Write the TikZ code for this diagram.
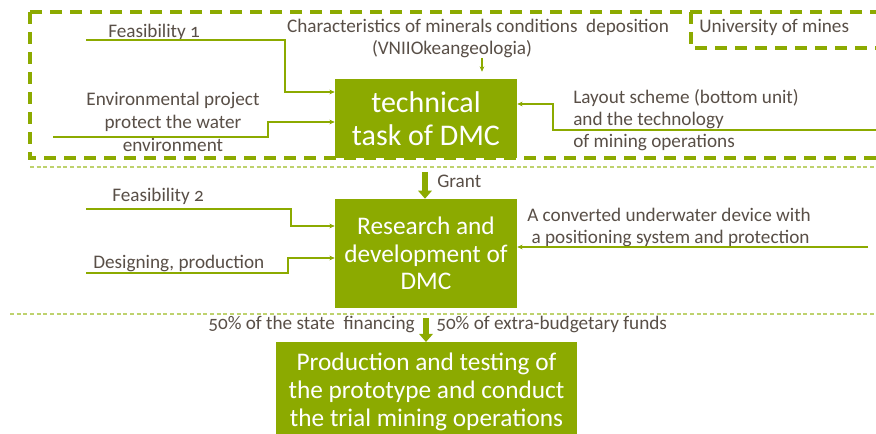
\documentclass[tikz,border=0pt]{standalone}
\usepackage{fontspec}
\setmainfont{Carlito}[Numbers=OldStyle]
\usetikzlibrary{arrows.meta}

\definecolor{dmcgreen}{RGB}{140,170,0}
\definecolor{dmclight}{RGB}{190,210,110}
\definecolor{dmctext}{RGB}{89,79,71}

\tikzset{
  box/.style={fill=dmcgreen, text=white, inner sep=0pt, align=center,
    font=\fontsize{19}{20.5}\selectfont},
  lbl/.style={text=dmctext, inner sep=0pt, font=\fontsize{14.4}{16.5}\selectfont},
  conn/.style={draw=dmcgreen, line width=0.9pt, -{Stealth[length=4pt,width=3.5pt]}},
  bigarrow/.style={draw=dmcgreen, line width=3.8pt, -{Triangle[length=6pt,width=10pt]}},
  frame/.style={draw=dmcgreen, line width=2.5pt, dash pattern=on 9pt off 6pt},
  sep/.style={draw=dmclight, line width=0.8pt, dash pattern=on 3pt off 2pt}
}

\begin{document}
\begin{tikzpicture}[x=0.75pt, y=-0.75pt]
    \clip (0,0) rectangle (876,434);
    \fill[white] (0,0) rectangle (876,434);

    % Dashed frames
    \draw[frame] (30,12) rectangle (900,158);
    \draw[frame] (691,12) -- (691,48) -- (900,48);
    \node[lbl, anchor=base west] (uni) at (699,33) {University of mines};

    % Separators
    \draw[sep] (30,167) -- (876,167);
    \draw[sep] (10,314) -- (876,314);

    % Boxes
    \node[box, minimum width=136.5pt, minimum height=59.25pt,
      font=\fontsize{22.5}{24.75}\selectfont] (tech) at (426,118.5) {technical\\task of DMC};
    \node[box, minimum width=136.5pt, minimum height=81.75pt] (res) at (426,253.5)
      {Research and\\development of\\DMC};
    \node[box, minimum width=225.75pt, minimum height=75pt, anchor=north,
      font=\fontsize{19}{21}\selectfont] (prod) at (426.5,342)
      {Production and testing of\\the prototype and conduct\\the trial mining operations};

    % Inputs of the technical task
    \node[lbl, align=center, anchor=base] (chars) at (478,55)
      {Characteristics of minerals conditions\ \ deposition\\(VNIIOkeangeologia)\hspace*{39pt}};
    \coordinate (chs) at (482,58);
    \draw[conn, shorten >=5.25pt] (chs) -- (chs |- tech.north);

    \node[lbl, anchor=base west] (feas1) at (108,38) {Feasibility 1};
    \coordinate (f1s) at (86,40);
    \coordinate (f1k) at (285,92);
    \draw[conn] (f1s) -| (f1k) -- (f1k -| tech.west);

    \node[lbl, align=center, anchor=base, font=\fontsize{14.4}{17.25}\selectfont] (env)
      at (173,152) {Environmental project\\protect the water\\environment};
    \coordinate (evs) at (53,137);
    \coordinate (evk) at (268,122);
    \draw[conn] (evs) -| (evk) -- (evk -| tech.west);

    \node[lbl, align=left, anchor=base west] (layout) at (573,148)
      {Layout scheme (bottom unit)\\and the technology\\of mining operations};
    \coordinate (lys) at (880,130);
    \coordinate (lyk) at (553,104);
    \draw[conn] (lys) -| (lyk) -- (lyk -| tech.east);

    % Grant
    \coordinate (gs) at (425,172);
    \draw[bigarrow] (gs) -- (gs |- res.north);
    \node[lbl, anchor=base west] (grant) at (437,188) {Grant};

    % Inputs of research and development
    \node[lbl, anchor=base west] (feas2) at (112,202) {Feasibility 2};
    \coordinate (f2s) at (86,209);
    \coordinate (f2k) at (291,226);
    \draw[conn] (f2s) -| (f2k) -- (f2k -| res.west);

    \node[lbl, anchor=base west] (design) at (93,269) {Designing, production};
    \coordinate (dss) at (86,273);
    \coordinate (dsk) at (288,258);
    \draw[conn] (dss) -| (dsk) -- (dsk -| res.west);

    \node[lbl, align=left, anchor=base west] (device) at (527,244)
      {A converted underwater device with\\\ a positioning system and protection};
    \coordinate (dvs) at (868,247);
    \draw[conn] (dvs) -- (dvs -| res.east);

    % Financing
    \coordinate (fs) at (426,318);
    \draw[bigarrow] (fs) -- (fs |- prod.north);
    \node[lbl, anchor=base east] (state) at (415,330) {50\% of the state\ \ financing};
    \node[lbl, anchor=base west] (extra) at (436,330) {50\% of extra-budgetary funds};
\end{tikzpicture}
\end{document}
